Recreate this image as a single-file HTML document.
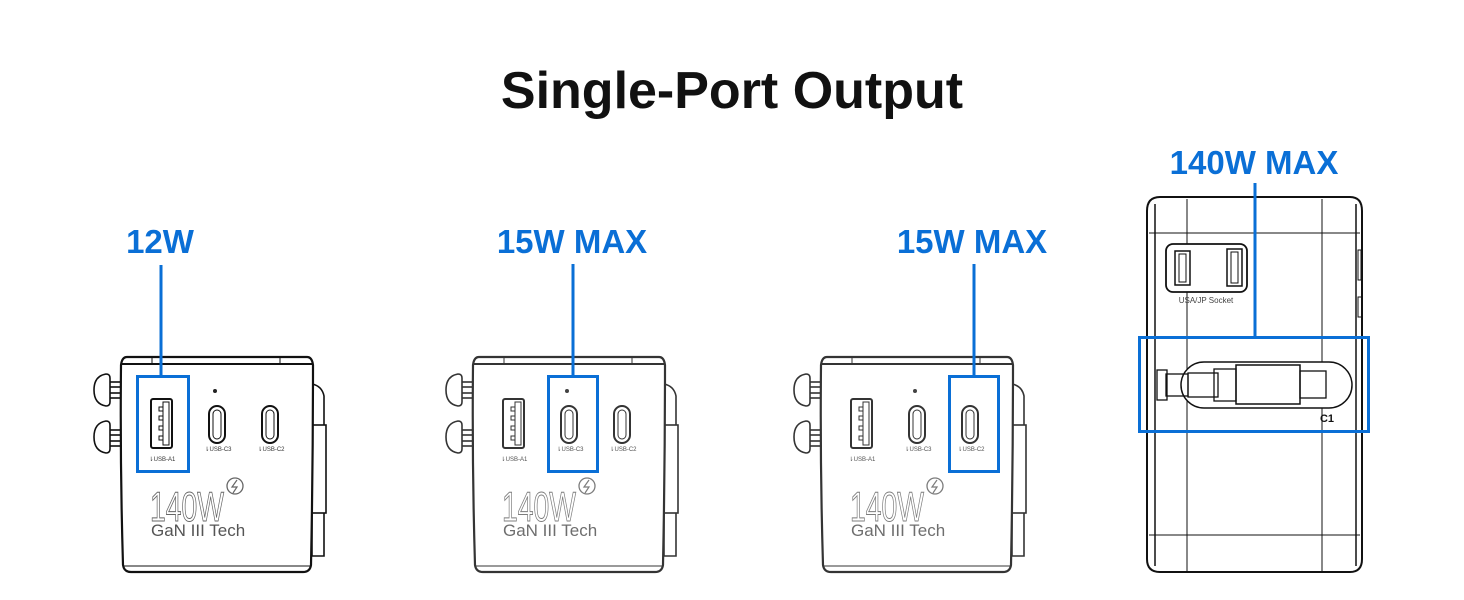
<!DOCTYPE html>
<html><head><meta charset="utf-8"><style>
html,body{margin:0;padding:0;background:#fff;}
svg{display:block;}
text{font-family:"Liberation Sans",sans-serif;}
</style></head><body>
<svg width="1464" height="600" viewBox="0 0 1464 600" xmlns="http://www.w3.org/2000/svg">
<defs>
<g id="dev">
  <g fill="#fff" stroke="#111" stroke-width="1.6">
    <rect x="104" y="382" width="18" height="5"/><rect x="104" y="393" width="18" height="5"/>
    <path d="M106 374 q-12 2 -12 16 q0 14 12 16 q4 0 4 -4 v-24 q0 -4 -4 -4z"/>
    <rect x="104" y="430" width="18" height="5"/><rect x="104" y="441" width="18" height="5"/>
    <path d="M106 421 q-12 2 -12 16 q0 14 12 16 q4 0 4 -4 v-24 q0 -4 -4 -4z"/>
    <path d="M312 384 q10 2 12 12 v160 h-12z"/>
    <rect x="312" y="425" width="14" height="88"/>
    <path d="M127 357 h180 q5 0 6 8 q0 100 -2 200 q-1 7 -8 7 h-172 q-7 0 -8 -7 q-3 -100 -2 -200 q1 -8 6 -8z" stroke-width="2.2"/>
  </g>
  <line x1="122" y1="364" x2="312" y2="364" stroke="#111" stroke-width="2"/>
  <line x1="152" y1="357" x2="152" y2="364" stroke="#111" stroke-width="1"/>
  <line x1="280" y1="357" x2="280" y2="364" stroke="#111" stroke-width="1"/>
  <line x1="124" y1="566" x2="310" y2="566" stroke="#111" stroke-width="1"/>
  <rect x="151" y="399" width="21" height="49" rx="2" fill="none" stroke="#111" stroke-width="2"/>
  <rect x="163" y="402" width="6" height="43" fill="none" stroke="#111" stroke-width="1"/>
  <g fill="none" stroke="#111" stroke-width="1"><rect x="159" y="407" width="4" height="4"/><rect x="159" y="416" width="4" height="4"/><rect x="159" y="426" width="4" height="4"/><rect x="159" y="436" width="4" height="4"/></g>
  <text x="162" y="461" font-size="6" text-anchor="middle" fill="#333">⇂USB-A1</text>
  <circle cx="215" cy="391" r="2" fill="#222"/>
  <rect x="209" y="406" width="16" height="37" rx="8" fill="none" stroke="#111" stroke-width="2"/>
  <rect x="213" y="410" width="8" height="29" rx="4" fill="none" stroke="#111" stroke-width="1"/>
  <text x="218" y="451" font-size="6" text-anchor="middle" fill="#333">⇂USB-C3</text>
  <rect x="262" y="406" width="16" height="37" rx="8" fill="none" stroke="#111" stroke-width="2"/>
  <rect x="266" y="410" width="8" height="29" rx="4" fill="none" stroke="#111" stroke-width="1"/>
  <text x="271" y="451" font-size="6" text-anchor="middle" fill="#333">⇂USB-C2</text>
  <text x="150" y="521" font-size="42" fill="#fff" stroke="#666" stroke-width="1" textLength="74" lengthAdjust="spacingAndGlyphs">140W</text>
  <circle cx="235" cy="486" r="8" fill="none" stroke="#666" stroke-width="1.3"/>
  <path d="M237 480 l-5 7 h5 l-4 6" fill="none" stroke="#666" stroke-width="1.2"/>
  <text x="151" y="536" font-size="17" fill="#555">GaN III Tech</text>
</g>
</defs>

<text x="732" y="108" font-size="52" font-weight="bold" text-anchor="middle" fill="#111">Single-Port Output</text>

<use href="#dev"/>
<use href="#dev" transform="translate(352,0)" opacity="0.85"/>
<use href="#dev" transform="translate(700,0)" opacity="0.85"/>

<g fill="none" stroke="#111">
  <path d="M1160 197 h190 q12 0 12 14 v348 q0 13 -12 13 h-190 q-13 0 -13 -13 v-348 q0 -14 13 -14z" stroke-width="2" fill="#fff"/>
  <line x1="1155" y1="204" x2="1155" y2="566" stroke-width="1.5"/>
  <line x1="1356" y1="204" x2="1356" y2="566" stroke-width="1.5"/>
  <line x1="1187" y1="199" x2="1187" y2="571" stroke-width="1"/>
  <line x1="1322" y1="199" x2="1322" y2="571" stroke-width="1"/>
  <line x1="1149" y1="233" x2="1360" y2="233" stroke-width="1"/>
  <line x1="1149" y1="535" x2="1360" y2="535" stroke-width="1"/>
  <rect x="1166" y="244" width="81" height="48" rx="7" stroke-width="1.8" fill="#fff"/>
  <rect x="1175" y="251" width="15" height="34" stroke-width="1.5"/>
  <rect x="1179" y="254" width="7" height="28" stroke-width="1"/>
  <rect x="1227" y="249" width="15" height="37" stroke-width="1.5"/>
  <rect x="1231" y="252" width="7" height="31" stroke-width="1"/>
  <rect x="1358" y="250" width="3" height="30" stroke-width="1"/>
  <rect x="1358" y="297" width="4" height="20" stroke-width="1"/>
  <rect x="1181" y="362" width="171" height="46" rx="23" stroke-width="1.5" fill="#fff"/>
  <rect x="1157" y="370" width="10" height="30" stroke-width="1.3"/>
  <rect x="1166" y="374" width="22" height="22" stroke-width="1.3"/>
  <rect x="1188" y="373" width="30" height="24" stroke-width="1.3"/>
  <rect x="1214" y="369" width="22" height="32" stroke-width="1.3"/>
  <rect x="1236" y="365" width="64" height="39" stroke-width="1.5"/>
  <rect x="1300" y="371" width="26" height="27" stroke-width="1.3"/>
</g>
<text x="1206" y="303" font-size="8" fill="#444" text-anchor="middle">USA/JP Socket</text>
<text x="1327" y="422" font-size="11" font-weight="bold" fill="#111" text-anchor="middle">C1</text>

<g fill="#0a6fd6" font-weight="bold" font-size="33" text-anchor="middle">
  <text x="160" y="253">12W</text>
  <text x="572" y="253">15W MAX</text>
  <text x="972" y="253">15W MAX</text>
  <text x="1254" y="174">140W MAX</text>
</g>
<g stroke="#0a6fd6" stroke-width="3" fill="none">
  <line x1="161" y1="265" x2="161" y2="377"/>
  <rect x="137.5" y="376.5" width="51" height="95"/>
  <line x1="573" y1="264" x2="573" y2="377"/>
  <rect x="548.5" y="376.5" width="49" height="95"/>
  <line x1="974" y1="264" x2="974" y2="377"/>
  <rect x="949.5" y="376.5" width="49" height="95"/>
  <line x1="1255" y1="183" x2="1255" y2="338"/>
  <rect x="1139.5" y="337.5" width="229" height="94"/>
</g>
</svg>
</body></html>
